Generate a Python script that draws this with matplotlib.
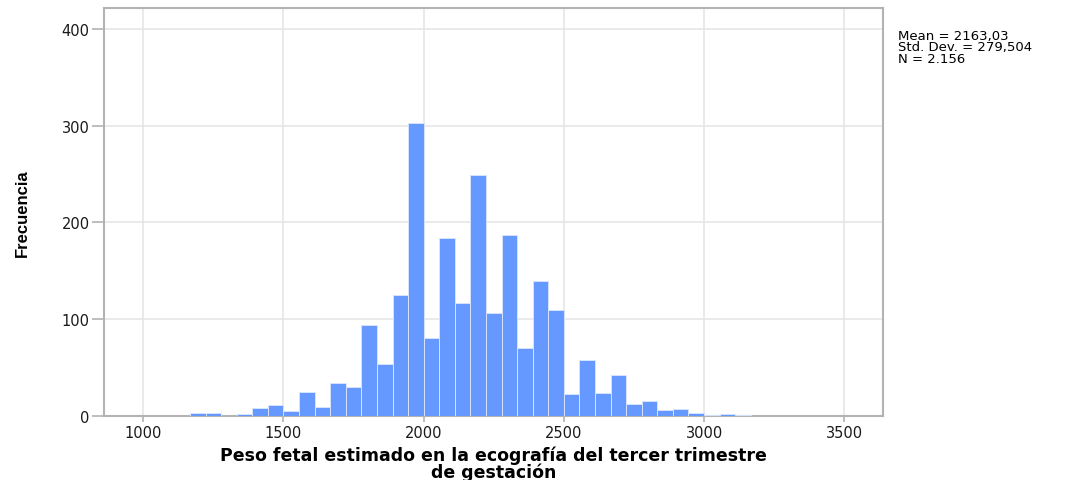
import numpy as np
import matplotlib
matplotlib.use("Agg")
import matplotlib.pyplot as plt

# Histogram counts (bin width 500/9 g, first bin starting at ~1166.7 g)
bin_start = 1500 - 6 * 500 / 9
bin_width = 500 / 9
counts = [3, 3, 0, 2, 8, 11, 5, 25, 9, 34, 30, 94, 53, 125, 303,
          80, 184, 117, 249, 106, 187, 70, 139, 109, 22, 58, 23, 42,
          12, 15, 6, 7, 3, 1, 2, 1]

x_ticks = [1000, 1500, 2000, 2500, 3000, 3500]
y_ticks = [0, 100, 200, 300, 400]
stats_lines = ["Mean = 2163,03", "Std. Dev. = 279,504", "N = 2.156"]
x_title = "Peso fetal estimado en la ecografía del tercer trimestre\nde gestación"
y_title = "Frecuencia"

bar_color = "#6699ff"
grid_color = "#e6e6e6"
frame_color = "#b3b3b3"

fig = plt.figure(figsize=(10.81, 4.81), dpi=100)
ax = fig.add_axes([0.0965, 0.1337, 0.8168 - 0.0965, 0.9813 - 0.1337])

lefts = bin_start + bin_width * np.arange(len(counts))
ax.bar(lefts, counts, width=bin_width, align="edge", color=bar_color,
       edgecolor="#d6e3ff", linewidth=0.7, zorder=3)

ax.set_xlim(861, 3638)
ax.set_ylim(0, 421.7)
ax.set_xticks(x_ticks)
ax.set_yticks(y_ticks)
ax.grid(True, color=grid_color, linewidth=1.2, zorder=0)
ax.set_axisbelow(True)

for side in ax.spines.values():
    side.set_color(frame_color)
    side.set_linewidth(1.5)

ax.tick_params(axis="y", length=8.5, width=1.2, color=frame_color, pad=2,
               labelsize=10.5, labelcolor="#1a1a1a")
ax.tick_params(axis="x", length=4, width=1.2, color=frame_color, pad=3,
               labelsize=10.5, labelcolor="#1a1a1a")
for lab in ax.get_xticklabels() + ax.get_yticklabels():
    lab.set_family("DejaVu Sans")

# Two-line x-axis title, centred under the plot area
fig.text(0.4565, 1 - 464 / 481, x_title, ha="center", va="center",
         fontsize=12.5, fontweight="bold", family="DejaVu Sans",
         linespacing=0.88, color="#000000")

fig.text(22 / 1081, 1 - 213 / 481, y_title, ha="center", va="center",
         rotation=90, fontsize=12, fontweight="bold",
         family="Liberation Sans", color="#000000")

fig.text(898 / 1081, 1 - 30 / 481, "\n".join(stats_lines), ha="left",
         va="top", fontsize=9.5, family="DejaVu Sans", linespacing=0.85,
         color="#000000")

fig.savefig("out.png", dpi=100)
